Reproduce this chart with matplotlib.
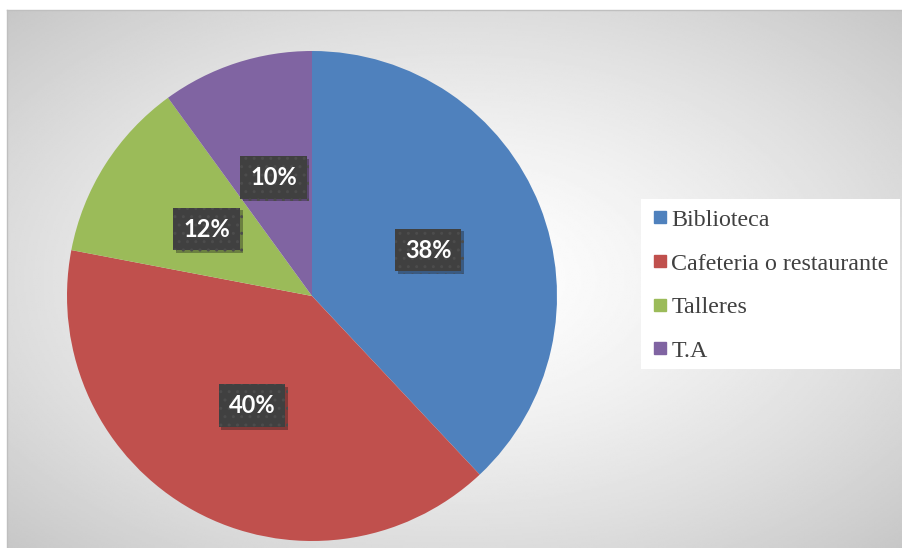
import numpy as np
import matplotlib
matplotlib.use("Agg")
import matplotlib.pyplot as plt
import matplotlib.patheffects as pe
from matplotlib.lines import Line2D
from matplotlib.patches import Rectangle

# Data
categories = ["Biblioteca", "Cafeteria o restaurante", "Talleres", "T.A"]
values = [38, 40, 12, 10]
colors = ["#4F81BD", "#C0504D", "#9BBB59", "#8064A2"]

W, H = 902, 548
fig = plt.figure(figsize=(W / 100, H / 100), dpi=100)
fig.patch.set_facecolor("white")

# chart area background: radial gradient white -> gray
bg = fig.add_axes([7 / W, 0, 895 / W, 538 / H])
yy, xx = np.mgrid[-1:1:300j, -1:1:500j]
d = np.sqrt(xx ** 2 + yy ** 2) / np.sqrt(2)
shade = 1 - 0.22 * d ** 1.4
bg.imshow(shade, cmap="gray", vmin=0, vmax=1, aspect="auto", extent=[0, 1, 0, 1])
bg.set_xticks([])
bg.set_yticks([])
for s in bg.spines.values():
    s.set_edgecolor("#BFBFBF")
    s.set_linewidth(1)
bg.spines["bottom"].set_visible(False)
bg.spines["right"].set_visible(False)

# pie axes
cx, cy, r = 312, 296, 245
ax = fig.add_axes([(cx - r) / W, (H - cy - r) / H, 2 * r / W, 2 * r / H])
ax.patch.set_alpha(0)
wedges, texts = ax.pie(values, colors=colors, startangle=90, counterclock=False,
                       radius=1, labels=None)
ax.set_xlim(-1, 1)
ax.set_ylim(-1, 1)
ax.set_aspect("equal")
ax.axis("off")

# data labels
cum = 0
for v in values:
    mid = 90 - (cum + v / 2) / 100 * 360
    cum += v
    x = 0.51 * np.cos(np.radians(mid))
    y = 0.51 * np.sin(np.radians(mid))
    t = ax.text(x, y, f"{v}%", ha="center", va="center", color="white",
                fontsize=17, fontweight="bold", family="Lato",
                bbox=dict(boxstyle="square,pad=0.42", fc="#404040", ec="#4C4C4C",
                          hatch="..", lw=0))
    t.get_bbox_patch().set_path_effects([pe.SimplePatchShadow(offset=(2, -2), alpha=0.35),
                                         pe.Normal()])

# legend
lx, ly = 641, 199
fig.patches.append(Rectangle((lx / W, (H - 369) / H), (900 - lx) / W, 170 / H,
                             transform=fig.transFigure, fc="white", ec="none",
                             zorder=1))
handles = [Line2D([], [], marker="s", ls="none", color=c, markersize=9) for c in colors]
leg = fig.legend(handles, categories, loc="upper left",
                 bbox_to_anchor=((lx + 11) / W, (H - ly - 10) / H),
                 frameon=False, prop={"family": "Liberation Serif", "size": 17.3},
                 labelspacing=0.91, handlelength=0.7, handletextpad=0.1,
                 borderaxespad=0, borderpad=0)
for t in leg.get_texts():
    t.set_color("#404040")
leg.set_zorder(2)

fig.savefig("out.png", dpi=100)
